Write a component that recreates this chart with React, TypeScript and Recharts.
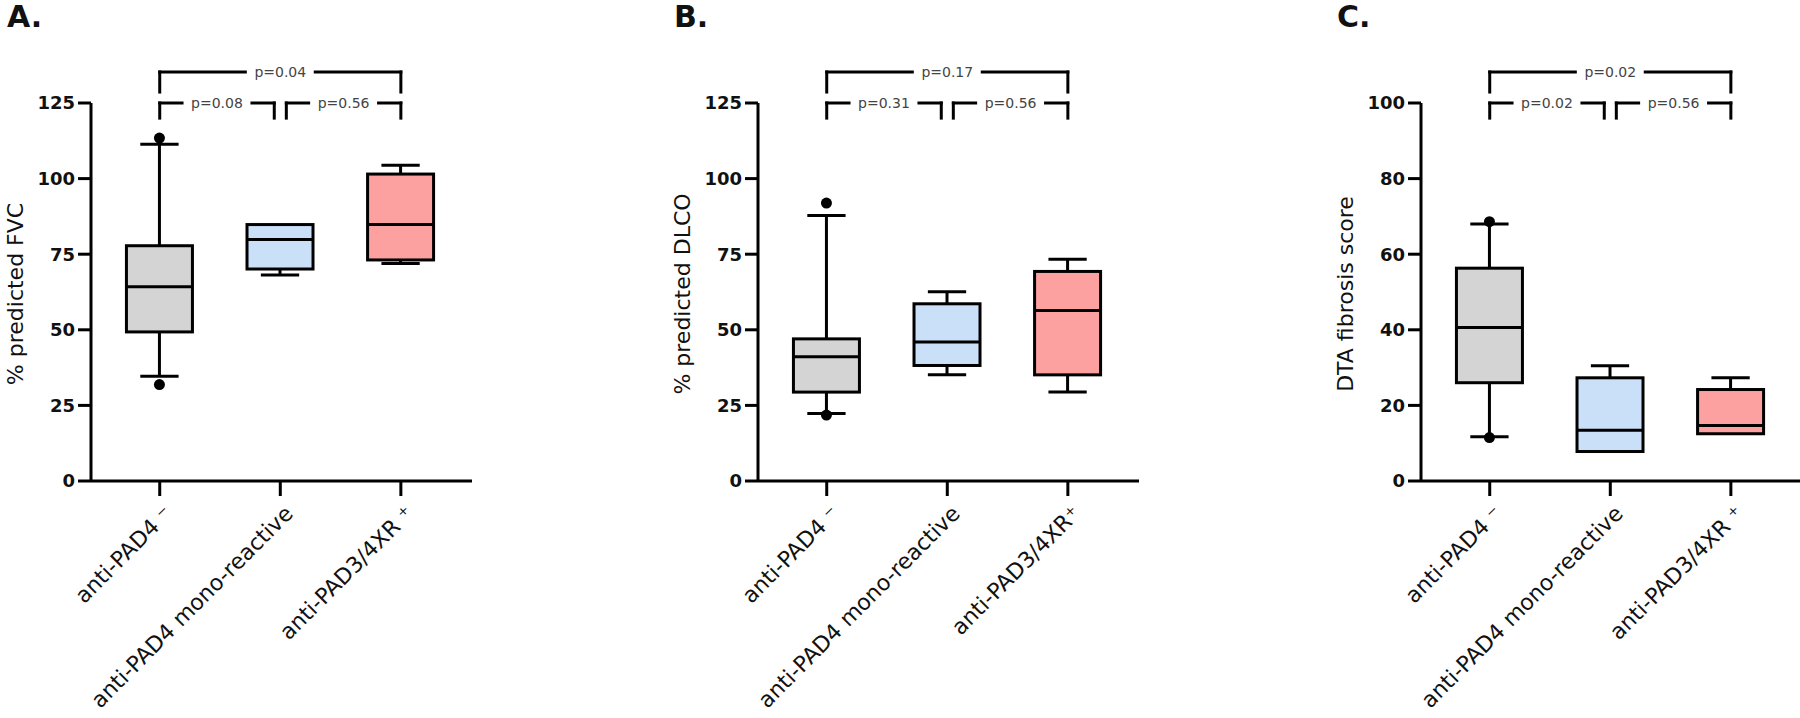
import React from 'react';
import {
  ComposedChart,
  Bar,
  XAxis,
  YAxis,
  ReferenceLine,
  ReferenceDot,
} from 'recharts';

// groups on the x axis (positions 1..3 on a numeric axis)
const groups = ['anti-PAD4', 'anti-PAD4 mono-reactive', 'anti-PAD3/4XR'];
const groupPos = [1, 2, 3];
const supA = [' \u207B', '', ' \u207A'];
const supB = [' \u207B', '', '\u207A'];
const supC = [' \u207B', '', ' \u207A'];

// A. % predicted FVC
const fvcMin = [34.6, 68.1, 71.9];
const fvcQ1 = [49.3, 70.1, 73.1];
const fvcMed = [64.2, 79.9, 84.8];
const fvcQ3 = [77.8, 84.8, 101.5];
const fvcMax = [111.4, 84.8, 104.4];
const fvcOut = [[113.4, 31.9], [], []];
const fvcP = ['p=0.08', 'p=0.56', 'p=0.04'];

// B. % predicted DLCO
const dlcoMin = [22.3, 35.1, 29.4];
const dlcoQ1 = [29.4, 38.2, 35.1];
const dlcoMed = [41.1, 46.0, 56.4];
const dlcoQ3 = [47.0, 58.6, 69.3];
const dlcoMax = [87.8, 62.6, 73.3];
const dlcoOut = [[91.9, 21.8], [], []];
const dlcoP = ['p=0.31', 'p=0.56', 'p=0.17'];

// C. DTA fibrosis score
const dtaMin = [11.7, 7.8, 12.5];
const dtaQ1 = [26.0, 7.8, 12.5];
const dtaMed = [40.6, 13.4, 14.7];
const dtaQ3 = [56.3, 27.3, 24.2];
const dtaMax = [68.0, 30.5, 27.3];
const dtaOut = [[68.6, 11.5], [], []];
const dtaP = ['p=0.02', 'p=0.56', 'p=0.02'];

const ticks125 = [0, 25, 50, 75, 100, 125];
const ticks100 = [0, 20, 40, 60, 80, 100];

// comparisons: [from, to] for the two adjacent pairs and the outer pair
const pairs = [
  [1, 1.95],
  [2.05, 3],
  [1, 3],
];

const FILLS = ['#d4d4d4', '#cadff8', '#fca0a0'];
const FONT = '"DejaVu Sans", sans-serif';
const INK = '#111';

function BoxShape(props: any) {
  const { x, y, width, height, payload } = props;
  const { lo, hi } = payload;
  const top = Math.min(y, y + height);
  const bot = Math.max(y, y + height);
  const py = (v: number) => bot - ((bot - top) * (v - lo)) / (hi - lo);
  const cx = x + width / 2;
  const cap = width * 0.29;
  return (
    <g stroke="#000" strokeWidth={3} fill="none">
      {payload.max > payload.q3 && (
        <>
          <line x1={cx} x2={cx} y1={py(payload.max)} y2={py(payload.q3)} />
          <line x1={cx - cap} x2={cx + cap} y1={py(payload.max)} y2={py(payload.max)} />
        </>
      )}
      {payload.min < payload.q1 && (
        <>
          <line x1={cx} x2={cx} y1={py(payload.q1)} y2={py(payload.min)} />
          <line x1={cx - cap} x2={cx + cap} y1={py(payload.min)} y2={py(payload.min)} />
        </>
      )}
      <rect
        x={x}
        y={py(payload.q3)}
        width={width}
        height={py(payload.q1) - py(payload.q3)}
        fill={payload.fill}
      />
      <line x1={x} x2={x + width} y1={py(payload.med)} y2={py(payload.med)} />
      {payload.outliers.map((v: number, i: number) => (
        <circle key={i} cx={cx} cy={py(v)} r={5.5} fill="#000" stroke="none" />
      ))}
    </g>
  );
}

function GroupTick(props: any) {
  const { x, y, payload, sups } = props;
  const i = Math.round(payload.value) - 1;
  return (
    <g transform={`translate(${x + 14},${y + 19})`}>
      <text
        transform="rotate(-45)"
        textAnchor="end"
        fontFamily={FONT}
        fontSize={22}
        fill={INK}
        style={{ whiteSpace: 'pre' }}
      >
        {groups[i] + sups[i]}
      </text>
    </g>
  );
}

interface PanelProps {
  left: number;
  title: string;
  yLabel: string;
  yMax: number;
  yTicks: number[];
  mins: number[];
  q1s: number[];
  meds: number[];
  q3s: number[];
  maxs: number[];
  outs: number[][];
  sups: string[];
  pvals: string[];
}

function Panel(p: PanelProps) {
  const data = groupPos.map((pos, i) => {
    const pts = [p.mins[i], p.maxs[i], ...p.outs[i]];
    return {
      pos,
      min: p.mins[i],
      q1: p.q1s[i],
      med: p.meds[i],
      q3: p.q3s[i],
      max: p.maxs[i],
      outliers: p.outs[i],
      lo: Math.min(...pts),
      hi: Math.max(...pts),
      fill: FILLS[i],
    };
  });

  // bracket heights relative to axis max
  const outerLevel = p.yMax * 1.082;
  const outerLeg = p.yMax * 1.029;
  const innerLevel = p.yMax;
  const innerLeg = p.yMax * 0.96;
  const gap = 0.29;

  const segs: { x1: number; y1: number; x2: number; y2: number }[] = [];
  const labels: { x: number; y: number; text: string }[] = [];
  pairs.forEach(([a, b], i) => {
    const level = i === 2 ? outerLevel : innerLevel;
    const leg = i === 2 ? outerLeg : innerLeg;
    const mid = (a + b) / 2;
    segs.push({ x1: a, y1: leg, x2: a, y2: level });
    segs.push({ x1: a, y1: level, x2: mid - gap, y2: level });
    segs.push({ x1: mid + gap, y1: level, x2: b, y2: level });
    segs.push({ x1: b, y1: level, x2: b, y2: leg });
    labels.push({ x: mid, y: level, text: p.pvals[i] });
  });

  const yTitle = (lp: any) => {
    const vb = lp.viewBox;
    const bx = vb.x + vb.width - 68;
    const cy = vb.y + vb.height / 2 + 2;
    return (
      <text
        x={bx}
        y={cy}
        transform={`rotate(-90, ${bx}, ${cy})`}
        textAnchor="middle"
        fontFamily={FONT}
        fontSize={22}
        fill={INK}
      >
        {p.yLabel}
      </text>
    );
  };

  return (
    <div style={{ position: 'absolute', left: p.left, top: 0, width: 480, height: 718 }}>
      <ComposedChart
        width={480}
        height={718}
        data={data}
        margin={{ top: 103, right: 8, bottom: 8, left: 31 }}
        style={{ fontFamily: FONT }}
      >
        <XAxis
          dataKey="pos"
          type="number"
          domain={[0.43, 3.59]}
          allowDataOverflow
          ticks={groupPos}
          height={229}
          tickSize={15}
          tickMargin={0}
          axisLine={{ stroke: '#000', strokeWidth: 3 }}
          tickLine={{ stroke: '#000', strokeWidth: 3 }}
          tick={<GroupTick sups={p.sups} />}
          interval={0}
        />
        <YAxis
          type="number"
          domain={[0, p.yMax]}
          allowDataOverflow
          ticks={p.yTicks}
          width={60}
          tickSize={13}
          tickMargin={3}
          axisLine={{ stroke: '#000', strokeWidth: 3 }}
          tickLine={{ stroke: '#000', strokeWidth: 3 }}
          tick={{ fontFamily: FONT, fontSize: 18, fontWeight: 'bold', fill: INK }}
          label={yTitle}
        />
        <Bar
          dataKey={(d: any) => [d.lo, d.hi]}
          barSize={66}
          shape={<BoxShape />}
          isAnimationActive={false}
        />
        {segs.map((s, i) => (
          <ReferenceLine
            key={`s${i}`}
            segment={[
              { x: s.x1, y: s.y1 },
              { x: s.x2, y: s.y2 },
            ]}
            ifOverflow="visible"
            stroke="#000"
            strokeWidth={3}
            strokeLinecap="square"
          />
        ))}
        {labels.map((l, i) => (
          <ReferenceDot
            key={`p${i}`}
            x={l.x}
            y={l.y}
            r={0}
            ifOverflow="visible"
            shape={(sp: any) => (
              <text
                x={sp.cx}
                y={sp.cy}
                dy="0.35em"
                textAnchor="middle"
                fontFamily={FONT}
                fontSize={14}
                fill="#444"
              >
                {l.text}
              </text>
            )}
          />
        ))}
      </ComposedChart>
      <div
        style={{
          position: 'absolute',
          left: 7,
          top: 2,
          fontFamily: FONT,
          fontWeight: 'bold',
          fontSize: 30,
          lineHeight: '30px',
          color: INK,
        }}
      >
        {p.title}
      </div>
    </div>
  );
}

export default function App() {
  return (
    <div style={{ position: 'absolute', left: 0, top: 0, width: 1800, height: 718, background: '#fff', overflow: 'hidden' }}>
      <Panel
        left={0}
        title="A."
        yLabel="% predicted FVC"
        yMax={125}
        yTicks={ticks125}
        mins={fvcMin}
        q1s={fvcQ1}
        meds={fvcMed}
        q3s={fvcQ3}
        maxs={fvcMax}
        outs={fvcOut}
        sups={supA}
        pvals={fvcP}
      />
      <Panel
        left={667}
        title="B."
        yLabel="% predicted DLCO"
        yMax={125}
        yTicks={ticks125}
        mins={dlcoMin}
        q1s={dlcoQ1}
        meds={dlcoMed}
        q3s={dlcoQ3}
        maxs={dlcoMax}
        outs={dlcoOut}
        sups={supB}
        pvals={dlcoP}
      />
      <Panel
        left={1330}
        title="C."
        yLabel="DTA fibrosis score"
        yMax={100}
        yTicks={ticks100}
        mins={dtaMin}
        q1s={dtaQ1}
        meds={dtaMed}
        q3s={dtaQ3}
        maxs={dtaMax}
        outs={dtaOut}
        sups={supC}
        pvals={dtaP}
      />
    </div>
  );
}
